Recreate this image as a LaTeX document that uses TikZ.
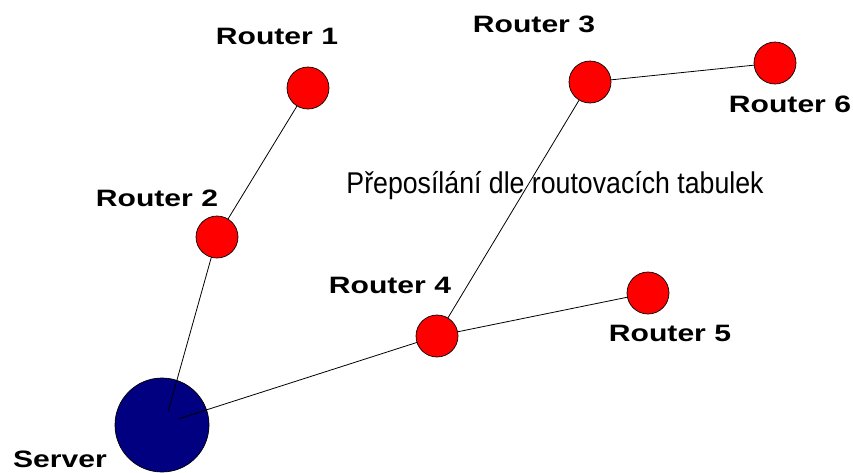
\documentclass[tikz,border=0pt]{standalone}
\usepackage{fontspec}
\setmainfont{Liberation Sans}
\definecolor{servblue}{RGB}{0,0,128}
\newcommand{\lbl}[1]{\scalebox{1.27}[1]{\bfseries\fontsize{23.7}{28}\selectfont #1}}
\begin{document}
\begin{tikzpicture}[x=1pt,y=-1pt,
  router/.style={circle,draw=black,line width=0.7pt,fill=red,minimum size=42pt,inner sep=0pt},
  server/.style={circle,draw=black,line width=0.7pt,fill=servblue,minimum size=94pt,inner sep=0pt},
  link/.style={draw=black,line width=0.8pt},
  tag/.style={inner sep=0pt,anchor=center}]
\useasboundingbox[fill=white] (0,0) rectangle (853,472);
\node[server] (srv) at (162,425) {};
\coordinate (s1) at (168,412);
\coordinate (s2) at (178,419);
\draw[link] (308,88) -- (217,237);
\draw[link] (217,237) -- (s1);
\draw[link] (s2) -- (437,336);
\draw[link] (437,336) -- (590,82);
\draw[link] (590,82) -- (775,63);
\draw[link] (437,336) -- (648,293);
\node[router] (r1) at (308,88) {};
\node[router] (r2) at (217,237) {};
\node[router] (r3) at (590,82) {};
\node[router] (r4) at (437,336) {};
\node[router] (r5) at (648,293) {};
\node[router] (r6) at (775,63) {};
\node[tag] (t1) at (277,36) {\lbl{Router 1}};
\node[tag] (t2) at (157,198) {\lbl{Router 2}};
\node[tag] (t3) at (534,24) {\lbl{Router 3}};
\node[tag] (t4) at (390,285) {\lbl{Router 4}};
\node[tag] (t5) at (670,333) {\lbl{Router 5}};
\node[tag] (t6) at (790,104) {\lbl{Router 6}};
\node[tag,anchor=base] (ts) at (60,467) {\lbl{Server}};
\node[tag,anchor=base] (title) at (555,193) {\scalebox{0.89}[1]{\fontsize{30}{34}\selectfont Přeposílání dle routovacích tabulek}};
\end{tikzpicture}
\end{document}
